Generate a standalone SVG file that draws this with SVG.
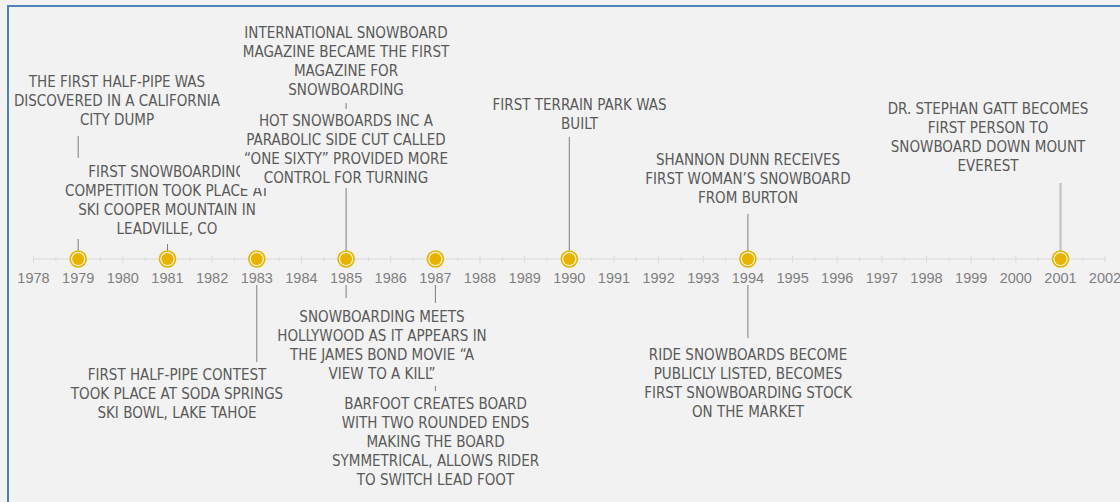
<svg xmlns="http://www.w3.org/2000/svg" width="1120" height="502" viewBox="0 0 1120 502">
<style>
.lbl{font-family:"Liberation Sans Narrow","DejaVu Sans Condensed","Liberation Sans",sans-serif;font-size:15px;fill:#595959;text-anchor:middle}
.yr{font-family:"Liberation Sans",Arial,sans-serif;font-size:14.5px;fill:#7f7f7f;text-anchor:middle}
.ln{stroke:#7f7f7f;stroke-width:1;fill:none}
.ax{stroke:#d9d9d9;stroke-width:1;fill:none}
.ring{fill:#fbf3d6;stroke:#e6b400;stroke-width:1.6}
.dot{fill:#e6b400}
.bg{fill:#f2f2f2}
</style>
<rect x="0" y="0" width="1120" height="502" fill="#f2f2f2"/>
<rect x="8" y="6" width="1200" height="600" fill="none" stroke="#4f81bd" stroke-width="2"/>

<g id="axis">
<line class="ax" x1="33.5" y1="259" x2="1105" y2="259"/>
<path class="ax" d="M33.5 255.5V262.5M78.2 255.5V262.5M122.8 255.5V262.5M167.5 255.5V262.5M212.1 255.5V262.5M256.8 255.5V262.5M301.4 255.5V262.5M346.1 255.5V262.5M390.7 255.5V262.5M435.4 255.5V262.5M480 255.5V262.5M524.7 255.5V262.5M569.3 255.5V262.5M614 255.5V262.5M658.6 255.5V262.5M703.3 255.5V262.5M747.9 255.5V262.5M792.6 255.5V262.5M837.2 255.5V262.5M881.9 255.5V262.5M926.5 255.5V262.5M971.2 255.5V262.5M1015.8 255.5V262.5M1060.5 255.5V262.5M1105 255.5V262.5"/>
<path class="ax" d="M55.8 257V261M100.5 257V261M145.2 257V261M189.8 257V261M234.5 257V261M279.1 257V261M323.8 257V261M368.4 257V261M413.1 257V261M457.7 257V261M502.4 257V261M547 257V261M591.7 257V261M636.3 257V261M681 257V261M725.6 257V261M770.3 257V261M814.9 257V261M859.6 257V261M904.2 257V261M948.9 257V261M993.5 257V261M1038.2 257V261M1082.8 257V261"/>
<text class="yr" x="33.5" y="283">1978</text>
<text class="yr" x="78.2" y="283">1979</text>
<text class="yr" x="122.8" y="283">1980</text>
<text class="yr" x="167.5" y="283">1981</text>
<text class="yr" x="212.1" y="283">1982</text>
<text class="yr" x="256.8" y="283">1983</text>
<text class="yr" x="301.4" y="283">1984</text>
<text class="yr" x="346.1" y="283">1985</text>
<text class="yr" x="390.7" y="283">1986</text>
<text class="yr" x="435.4" y="283">1987</text>
<text class="yr" x="480" y="283">1988</text>
<text class="yr" x="524.7" y="283">1989</text>
<text class="yr" x="569.3" y="283">1990</text>
<text class="yr" x="614" y="283">1991</text>
<text class="yr" x="658.6" y="283">1992</text>
<text class="yr" x="703.3" y="283">1993</text>
<text class="yr" x="747.9" y="283">1994</text>
<text class="yr" x="792.6" y="283">1995</text>
<text class="yr" x="837.2" y="283">1996</text>
<text class="yr" x="881.9" y="283">1997</text>
<text class="yr" x="926.5" y="283">1998</text>
<text class="yr" x="971.2" y="283">1999</text>
<text class="yr" x="1015.8" y="283">2000</text>
<text class="yr" x="1060.5" y="283">2001</text>
<text class="yr" x="1105" y="283">2002</text>
</g>

<g id="connectors">
<path class="ln" d="M78.2 136V158M78.2 239V259"/>
<path class="ln" d="M167.5 244V259"/>
<path class="ln" d="M346.1 103V259"/>
<path class="ln" d="M256.8 285V362"/>
<path class="ln" d="M346.1 285V298"/>
<path class="ln" d="M435.4 285V303M435.4 386V391"/>
<path class="ln" d="M569.3 137V259"/>
<path class="ln" d="M747.9 214V259M747.9 285V338"/>
<path d="M1060.5 183V259" stroke="#bfbfbf" stroke-width="2" fill="none"/>
</g>

<g id="e1979">
<text class="lbl" x="117" y="87">THE FIRST HALF-PIPE WAS</text>
<text class="lbl" x="117" y="106">DISCOVERED IN A CALIFORNIA</text>
<text class="lbl" x="117" y="125">CITY DUMP</text>
</g>
<g id="e1981">
<text class="lbl" x="167" y="177">FIRST SNOWBOARDING</text>
<text class="lbl" x="167" y="196">COMPETITION TOOK PLACE AT</text>
<text class="lbl" x="167" y="215">SKI COOPER MOUNTAIN IN</text>
<text class="lbl" x="167" y="234">LEADVILLE, CO</text>
</g>
<g id="e1985a">
<text class="lbl" x="346" y="38">INTERNATIONAL SNOWBOARD</text>
<text class="lbl" x="346" y="57">MAGAZINE BECAME THE FIRST</text>
<text class="lbl" x="346" y="76">MAGAZINE FOR</text>
<text class="lbl" x="346" y="95">SNOWBOARDING</text>
</g>
<g id="e1985b">
<rect class="bg" x="240" y="109" width="212" height="79"/>
<text class="lbl" x="346" y="126">HOT SNOWBOARDS INC A</text>
<text class="lbl" x="346" y="145">PARABOLIC SIDE CUT CALLED</text>
<text class="lbl" x="346" y="164">“ONE SIXTY” PROVIDED MORE</text>
<text class="lbl" x="346" y="183">CONTROL FOR TURNING</text>
</g>
<g id="e1983">
<text class="lbl" x="177" y="379.5">FIRST HALF-PIPE CONTEST</text>
<text class="lbl" x="177" y="398.5">TOOK PLACE AT SODA SPRINGS</text>
<text class="lbl" x="177" y="417.5">SKI BOWL, LAKE TAHOE</text>
</g>
<g id="e1985c">
<text class="lbl" x="382" y="322">SNOWBOARDING MEETS</text>
<text class="lbl" x="382" y="341">HOLLYWOOD AS IT APPEARS IN</text>
<text class="lbl" x="382" y="360">THE JAMES BOND MOVIE “A</text>
<text class="lbl" x="382" y="378.5">VIEW TO A KILL”</text>
</g>
<g id="e1987">
<text class="lbl" x="435.5" y="409">BARFOOT CREATES BOARD</text>
<text class="lbl" x="435.5" y="428">WITH TWO ROUNDED ENDS</text>
<text class="lbl" x="435.5" y="447">MAKING THE BOARD</text>
<text class="lbl" x="435.5" y="466">SYMMETRICAL, ALLOWS RIDER</text>
<text class="lbl" x="435.5" y="484.5">TO SWITCH LEAD FOOT</text>
</g>
<g id="e1990">
<text class="lbl" x="579.5" y="109.5">FIRST TERRAIN PARK WAS</text>
<text class="lbl" x="579.5" y="128.5">BUILT</text>
</g>
<g id="e1994a">
<text class="lbl" x="748" y="165">SHANNON DUNN RECEIVES</text>
<text class="lbl" x="748" y="184">FIRST WOMAN’S SNOWBOARD</text>
<text class="lbl" x="748" y="203">FROM BURTON</text>
</g>
<g id="e1994b">
<text class="lbl" x="748" y="360">RIDE SNOWBOARDS BECOME</text>
<text class="lbl" x="748" y="379">PUBLICLY LISTED, BECOMES</text>
<text class="lbl" x="748" y="398">FIRST SNOWBOARDING STOCK</text>
<text class="lbl" x="748" y="417">ON THE MARKET</text>
</g>
<g id="e2001">
<text class="lbl" x="988" y="114">DR. STEPHAN GATT BECOMES</text>
<text class="lbl" x="988" y="133">FIRST PERSON TO</text>
<text class="lbl" x="988" y="152">SNOWBOARD DOWN MOUNT</text>
<text class="lbl" x="988" y="171">EVEREST</text>
</g>

<g id="dots">
<circle class="ring" cx="78.2" cy="259" r="8"/><circle class="dot" cx="78.2" cy="259" r="6"/>
<circle class="ring" cx="167.5" cy="259" r="8"/><circle class="dot" cx="167.5" cy="259" r="6"/>
<circle class="ring" cx="256.8" cy="259" r="8"/><circle class="dot" cx="256.8" cy="259" r="6"/>
<circle class="ring" cx="346.1" cy="259" r="8"/><circle class="dot" cx="346.1" cy="259" r="6"/>
<circle class="ring" cx="435.4" cy="259" r="8"/><circle class="dot" cx="435.4" cy="259" r="6"/>
<circle class="ring" cx="569.3" cy="259" r="8"/><circle class="dot" cx="569.3" cy="259" r="6"/>
<circle class="ring" cx="747.9" cy="259" r="8"/><circle class="dot" cx="747.9" cy="259" r="6"/>
<circle class="ring" cx="1060.5" cy="259" r="8"/><circle class="dot" cx="1060.5" cy="259" r="6"/>
</g>
</svg>
